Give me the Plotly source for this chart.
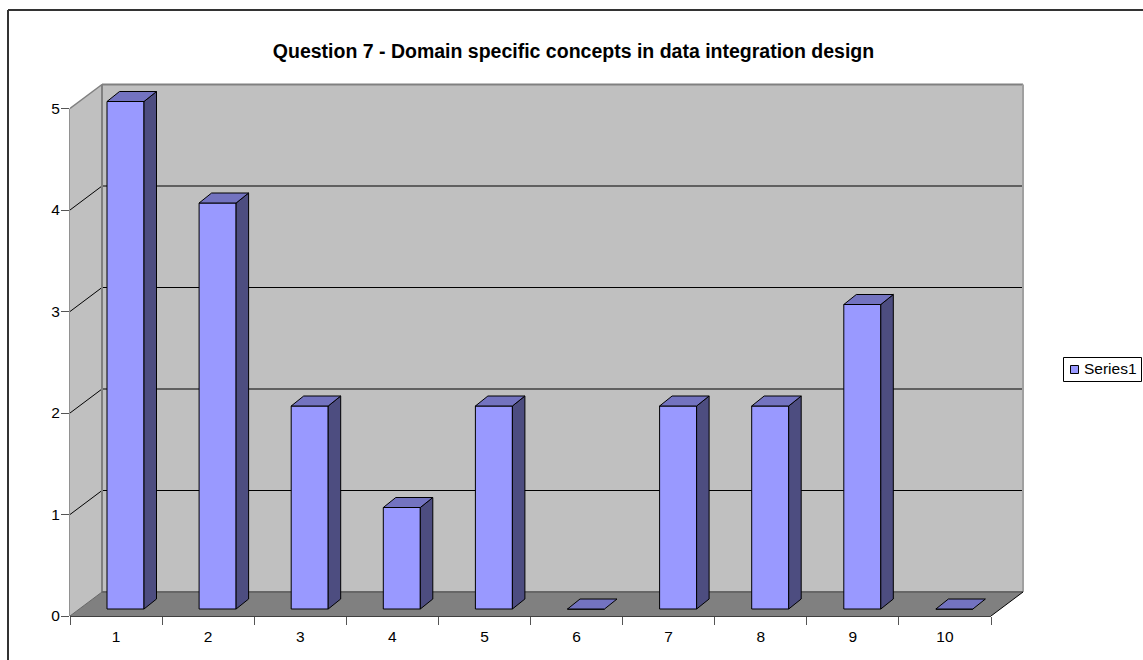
import plotly.graph_objects as go

categories = [1, 2, 3, 4, 5, 6, 7, 8, 9, 10]
values = [5, 4, 2, 1, 2, 0, 2, 2, 3, 0]
title_text = "Question 7 - Domain specific concepts in data integration design"
series_name = "Series1"
y_ticks = [0, 1, 2, 3, 4, 5]

W, H = 1143, 660
L, R, T, B = 70, 1026, 82, 616        # plot rectangle in page pixels
PXX, PXY = 92.1, 101.5                # pixels per category / per y unit
X0 = 0.5
X1 = X0 + (R - L) / PXX
XFRONT = X0 + len(categories)
Y1 = (B - T) / PXY
DX, DY = 32 / PXX, 24 / PXY           # floor depth in data units
XB = XFRONT + DX                      # right end of the back wall
SHIFT = 0.1026                        # bar offset along the floor
BASE = 7 / PXY                        # bar base above the front edge
BW = 37 / PXX                         # bar width
BDX, BDY = 12.5 / PXX, 10 / PXY       # bar depth

FRONT, SIDE, TOP = "#9999FF", "#4D4D80", "#7373C0"
WALL, FLOOR = "#C0C0C0", "#808080"


def poly(xs, ys, color, line=None, width=0, layer="below"):
    path = "M" + "L".join(f"{x},{y}" for x, y in zip(xs, ys)) + "Z"
    return dict(type="path", path=path, xref="x", yref="y", fillcolor=color,
                line=dict(color=line or color, width=width), layer=layer)


def seg(x0, y0, x1, y1, color="#000000", width=1, ref="x"):
    yr = "y" if ref == "x" else "paper"
    return dict(type="line", x0=x0, y0=y0, x1=x1, y1=y1, xref=ref, yref=yr,
                line=dict(color=color, width=width), layer="below")


fx = lambda px: (px - L) / (R - L)
fy = lambda py: (B - py) / (B - T)

shapes = [
    poly([X0, X0 + DX, X0 + DX, X0], [0, DY, 5 + DY, 5], WALL),
    poly([X0 + DX, XB, XB, X0 + DX], [DY, DY, 5 + DY, 5 + DY], WALL),
    poly([X0, XFRONT, XB, X0 + DX], [0, 0, DY, DY], FLOOR),
]
for v in y_ticks[1:-1]:
    shapes.append(seg(X0, v, X0 + DX, v + DY))
    shapes.append(seg(X0 + DX, v + DY, XB, v + DY))
# wall outlines
shapes += [
    seg(X0 + DX, 5 + DY, XB, 5 + DY, "#808080", 2),
    seg(X0 + DX, DY, X0 + DX, 5 + DY, "#808080", 2),
    seg(XB, DY, XB, 5 + DY, "#A0A0A0", 2),
    seg(X0, 5, X0 + DX, 5 + DY, "#808080", 1.5),
    seg(X0 + DX, DY, XB, DY, "#666666", 2),
    seg(X0, 0, X0 + DX, DY, "#666666", 1),
    seg(XFRONT, 0, XB, DY, "#000000", 1),
]
# axis lines, paper-based so they are not clipped at the plot edge
shapes += [
    seg(0, 0, 0, 5 / Y1, "#222222", 1, "paper"),
    seg(0, 0, (XFRONT - X0) / (X1 - X0), 0, "#000000", 1.5, "paper"),
]
# chart frame, open to the right and bottom of the page
shapes += [
    seg(fx(8), fy(10), fx(W), fy(10), "#333333", 2, "paper"),
    seg(fx(8), fy(10), fx(8), fy(H), "#333333", 2, "paper"),
]
# legend box and key
shapes += [
    dict(type="rect", xref="paper", yref="paper", x0=fx(1063.5), x1=fx(1141.5),
         y0=fy(381.5), y1=fy(357.5), line=dict(color="#000000", width=1), fillcolor="#FFFFFF"),
    dict(type="rect", xref="paper", yref="paper", x0=fx(1070.5), x1=fx(1078.5),
         y0=fy(373.5), y1=fy(365.5), line=dict(color="#000000", width=1), fillcolor=FRONT),
]

fig = go.Figure()
fig.add_trace(go.Bar(
    x=[c + SHIFT for c in categories], y=values, base=[BASE] * len(values),
    width=BW, name=series_name,
    marker=dict(color=FRONT, line=dict(color="#000000", width=1)),
    showlegend=False, hoverinfo="skip",
))
for c, v in zip(categories, values):
    xl = c + SHIFT - BW / 2
    xr = xl + BW
    yt = BASE + v
    if v > 0:
        fig.add_trace(go.Scatter(
            x=[xr, xr + BDX, xr + BDX, xr, xr],
            y=[BASE, BASE + BDY, yt + BDY, yt, BASE],
            mode="lines", fill="toself", fillcolor=SIDE,
            line=dict(color="#000000", width=1), showlegend=False, hoverinfo="skip",
        ))
    fig.add_trace(go.Scatter(
        x=[xl, xr, xr + BDX, xl + BDX, xl],
        y=[yt, yt, yt + BDY, yt + BDY, yt],
        mode="lines", fill="toself", fillcolor=TOP,
        line=dict(color="#000000", width=1), showlegend=False, hoverinfo="skip",
    ))

fig.update_layout(
    width=W, height=H, autosize=False,
    margin=dict(l=L, r=W - R, t=T, b=H - B, pad=0),
    paper_bgcolor="#FFFFFF", plot_bgcolor="rgba(0,0,0,0)",
    font=dict(family="Liberation Sans, Arial, sans-serif", size=15.5, color="#000000"),
    title=dict(text=f"<b>{title_text}</b>", x=573.5 / W, xanchor="center", xref="container",
               y=1 - 51 / H, yanchor="middle", yref="container",
               font=dict(size=19.5, color="#000000")),
    shapes=shapes,
    showlegend=False,
    annotations=[dict(text=series_name, xref="paper", yref="paper", x=fx(1081.5), y=fy(368.5),
                      xanchor="left", yanchor="middle", showarrow=False,
                      font=dict(size=15.5, color="#000000"))],
    xaxis=dict(range=[X0, X1], tickmode="array", tickvals=categories,
               ticktext=[str(c) for c in categories], ticks="outside",
               ticklen=6, tickcolor="rgba(0,0,0,0)", showgrid=False, zeroline=False,
               showline=False, fixedrange=True,
               minor=dict(tickmode="array",
                          tickvals=[X0 + i for i in range(len(categories) + 1)],
                          ticks="outside", ticklen=8, tickcolor="#555555", tickwidth=1,
                          showgrid=False)),
    yaxis=dict(range=[0, Y1], tickmode="array", tickvals=y_ticks, ticks="outside",
               ticklen=8, tickcolor="#555555", tickwidth=1, showgrid=False,
               ticklabelstandoff=-2,
               zeroline=False, showline=False, fixedrange=True),
)

fig.write_html("out.html", post_script="document.body.style.margin='0';",
               config=dict(displayModeBar=False))
